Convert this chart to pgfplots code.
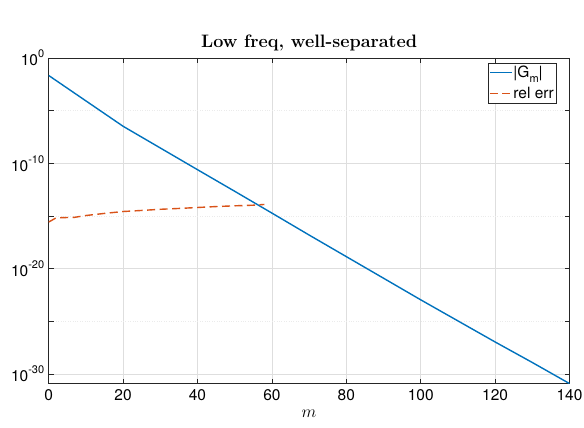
\documentclass[border=0pt]{standalone}
\usepackage{pgfplots}
\pgfplotsset{compat=1.18}
\usepackage{fontspec}
\newfontfamily\helv{TeX Gyre Heros}
\definecolor{mblue}{rgb}{0,0.447,0.741}
\definecolor{morange}{rgb}{0.85,0.325,0.098}
\definecolor{maxis}{rgb}{0.15,0.15,0.15}
\newcommand{\tk}{\helv\fontsize{15.5}{17}\selectfont}
\newcommand{\msup}[1]{\raisebox{1.0ex}{\helv\fontsize{11}{12}\selectfont #1}}
\begin{document}
\begin{tikzpicture}
\path[use as bounding box] (-48.7pt,-44pt) rectangle (535.5pt,383.7pt);
\begin{axis}[
  at={(0,0)}, anchor=south west,
  scale only axis, width=521pt, height=325.7pt,
  ymode=log,
  xmin=0, xmax=140, ymin=1.26e-31, ymax=1,
  xtick={0,20,...,140},
  ytick={1e-30,1e-20,1e-10,1},
  yticklabels={{\tk 10\msup{-30}},{\tk 10\msup{-20}},{\tk 10\msup{-10}},{\tk 10\msup{0}}},
  minor ytick={1e-25,1e-15,1e-5},
  /pgf/number format/assume math mode=true,
  xticklabel style={font=\tk, yshift=-2pt},
  yticklabel style={xshift=-1pt},
  tick align=inside,
  major tick length=5pt, minor tick length=5pt,
  tick style={maxis, line width=0.6pt},
  axis line style={maxis, line width=0.6pt},
  grid=both,
  major grid style={black!13, line width=0.5pt},
  minor grid style={black!8, line width=0.4pt, dotted},
  title={Low freq, well-separated},
  title style={font=\fontsize{18}{20}\selectfont\bfseries, yshift=-3pt},
  xlabel={$m$},
  xlabel style={font=\fontsize{18}{20}\selectfont, yshift=-3pt},
  legend cell align=left,
  legend style={at={(0.974,0.9856)}, anchor=north east, draw=maxis,
    font=\tk, inner xsep=1pt, inner ysep=2pt, row sep=6pt,
    nodes={inner sep=1pt}},
  legend image code/.code={\draw[#1] (0pt,0pt) -- (22pt,0pt);},
]
\addplot[mblue, line width=1.4pt] coordinates {
(0,2.19e-2) (10,8.51e-5) (20,3.31e-7) (30,2.88e-9) (40,2.51e-11) (50,2.24e-13)
(60,1.91e-15) (70,1.58e-17) (80,1.41e-19) (90,1.26e-21) (100,1.12e-23)
(110,1.12e-25) (120,1.12e-27) (130,1.26e-29) (140,1.26e-31)
};
\addlegendentry{|G\raisebox{-0.6ex}{\helv\fontsize{11}{12}\selectfont m}|}
\addplot[morange, line width=1.4pt, dash pattern=on 8pt off 4.5pt] coordinates {
(0,2.69e-16) (2,6.76e-16) (5,7.24e-16) (7,7.59e-16) (10,1.12e-15) (15,1.78e-15)
(20,2.69e-15) (25,3.39e-15) (30,4.37e-15) (35,5.25e-15) (40,6.46e-15)
(45,7.94e-15) (50,9.33e-15) (55,1.07e-14) (58,1.26e-14)
};
\addlegendentry{rel err}
\end{axis}
\end{tikzpicture}
\end{document}
